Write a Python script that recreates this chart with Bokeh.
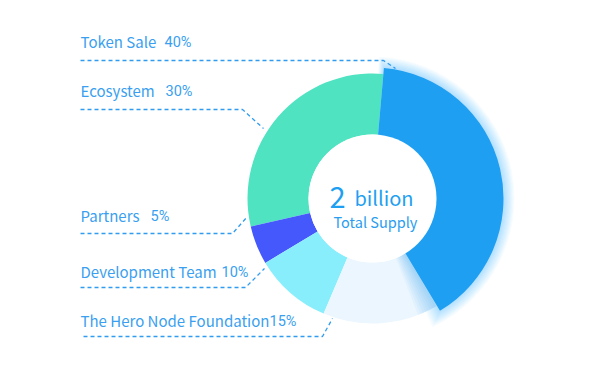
import math
from bokeh.plotting import figure
from bokeh.models import Range1d
from bokeh.core.properties import value
from bokeh.embed import file_html
from bokeh.resources import INLINE

# ---- data ----
categories = ["Token Sale", "Ecosystem", "Partners", "Development Team", "The Hero Node Foundation"]
shares = [40, 30, 5, 10, 15]
label_pct = ["40%", "30%", "5%", "10%", "15%"]
colors = ["#1e9ff2", "#50e3c2", "#4458fb", "#88eefc", "#ebf6fe"]
center_big = "2"
center_unit = "billion"
center_sub = "Total Supply"

W, H = 586, 365
p = figure(width=W, height=H, output_backend="svg", toolbar_location=None,
           x_range=Range1d(0, W), y_range=Range1d(0, H), min_border=0)
p.axis.visible = False
p.grid.visible = False
p.outline_line_color = None
p.background_fill_color = "white"

def X(px):
    return px
def Y(py):
    return H - py

cx, cy = X(372), Y(198)
r_in, r_out = 64, 125
start = math.radians(85)

total = sum(shares)
span0 = 2 * math.pi * shares[0] / total
angles = [(start - span0, start)]  # token: clockwise from top
a = start
for s in shares[1:]:
    span = 2 * math.pi * s / total
    angles.append((a, a + span))  # rest: anticlockwise from top
    a += span

# glow behind token slice
t0, t1 = angles[0]
for i in range(10):
    k = 10 - i
    pad = math.radians(0.6 * k)
    p.annular_wedge(x=cx, y=cy, inner_radius=r_in - 1, outer_radius=r_out + 6 + 1.1 * k,
                    start_angle=t0 - pad, end_angle=t1 + pad * 0.4, color="#1e9ff2", alpha=0.035,
                    line_color=None)

# other slices
for i in range(1, len(shares)):
    s0, s1 = angles[i]
    p.annular_wedge(x=cx, y=cy, inner_radius=r_in, outer_radius=r_out,
                    start_angle=s0, end_angle=s1, color=colors[i], line_color=None)

# shadow of token onto hero slice
for i in range(8):
    pad = math.radians(1.2 * (8 - i))
    p.annular_wedge(x=cx, y=cy, inner_radius=r_in, outer_radius=r_out,
                    start_angle=t0 - pad, end_angle=t0, color="#1e9ff2", alpha=0.05, line_color=None)

# token slice (slightly larger)
p.annular_wedge(x=cx, y=cy, inner_radius=r_in - 1, outer_radius=r_out + 6,
                start_angle=t0, end_angle=t1, color=colors[0], line_color=None)

# center circle
p.circle(x=cx, y=cy, radius=r_in, color="white", line_color=None)

# center text
font = value("Noto Sans CJK SC")
p.text(x=[X(329)], y=[Y(197)], text=[center_big], text_font=font, text_font_size="29px",
       text_color="#1e9ff2", text_baseline="alphabetic", text_align="left")
p.text(x=[X(354)], y=[Y(197)], text=[center_unit], text_font=font, text_font_size="20px",
       text_color="#1e9ff2", text_baseline="alphabetic", text_align="left")
p.text(x=[X(333)], y=[Y(221)], text=[center_sub], text_font=font, text_font_size="14.5px",
       text_color="#2a9df0", text_baseline="alphabetic", text_align="left")

# labels and leader lines (layout)
label_y = [41, 90, 215, 271, 320]
pct_x = [164, 165, 150, 221, 269]
leaders = [
    ([80, 383, 395], [60, 60, 68]),
    ([80, 242, 263], [109, 109, 128]),
    ([80, 232, 247], [233, 233, 216]),
    ([80, 245, 264], [287, 287, 268]),
    ([83, 322, 332], [336, 336, 318]),
]
label_color = "#3a9ff0"
pct_font = value("Roboto")
for i, cat in enumerate(categories):
    p.text(x=[X(80)], y=[Y(label_y[i])], text=[cat], text_font=font, text_font_size="15px",
           text_color=label_color, text_baseline="middle", text_align="left")
    p.text(x=[X(pct_x[i])], y=[Y(label_y[i] + 0.5)], text=[label_pct[i]], text_font=pct_font,
           text_font_size="14.5px", text_color=label_color, text_baseline="middle",
           text_align="left")
    lx, ly = leaders[i]
    p.line(x=[X(v) for v in lx], y=[Y(v) for v in ly], line_color="#2f9cf0",
           line_width=1.3, line_dash="4 3")

open("out.html", "w").write(file_html(p, INLINE))
